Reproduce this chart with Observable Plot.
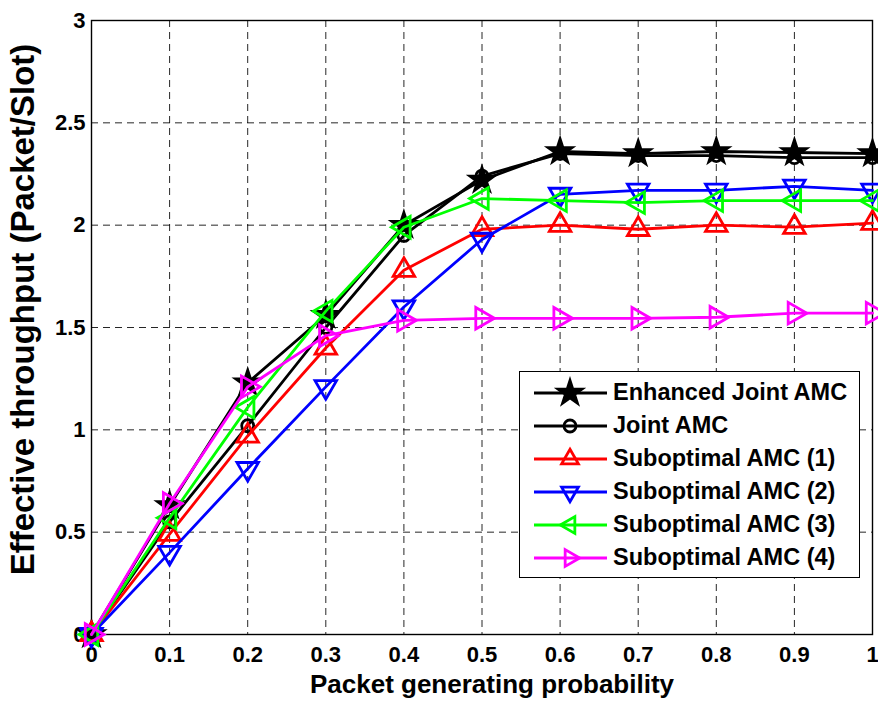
<!DOCTYPE html>
<html><head><meta charset="utf-8">
<script src="https://cdn.jsdelivr.net/npm/d3@7"></script>
<script src="https://cdn.jsdelivr.net/npm/@observablehq/plot@0.6"></script>
<style>
body{margin:0;background:#fff;}
#wrap{position:relative;width:878px;height:706px;overflow:hidden;font-family:"Liberation Sans",Arial,sans-serif;}
#legend{position:absolute;left:519px;top:371px;width:341px;height:207px;border:1.5px solid #000;background:#fff;box-sizing:border-box;}
.row{position:absolute;left:0;height:33px;display:flex;align-items:center;}
.row span{font-weight:bold;font-size:23.5px;color:#000;white-space:nowrap;}
</style></head><body><div id="wrap"></div>
<script>
const xValues = [0, 0.1, 0.2, 0.3, 0.4, 0.5, 0.6, 0.7, 0.8, 0.9, 1];
const enhancedJoint = [0, 0.63, 1.23, 1.56, 2.00, 2.22, 2.36, 2.35, 2.36, 2.355, 2.35];
const jointAMC = [0, 0.55, 1.02, 1.50, 1.95, 2.24, 2.35, 2.34, 2.34, 2.33, 2.33];
const subopt1 = [0, 0.49, 0.97, 1.40, 1.78, 1.98, 2.00, 1.98, 2.00, 1.99, 2.01];
const subopt2 = [0, 0.40, 0.81, 1.21, 1.60, 1.93, 2.15, 2.17, 2.17, 2.19, 2.17];
const subopt3 = [0, 0.57, 1.11, 1.58, 1.99, 2.13, 2.12, 2.11, 2.12, 2.12, 2.12];
const subopt4 = [0, 0.64, 1.21, 1.46, 1.535, 1.545, 1.545, 1.545, 1.55, 1.57, 1.57];

const seriesNames = ["Enhanced Joint AMC", "Joint AMC", "Suboptimal AMC (1)", "Suboptimal AMC (2)", "Suboptimal AMC (3)", "Suboptimal AMC (4)"];
const seriesValues = [enhancedJoint, jointAMC, subopt1, subopt2, subopt3, subopt4];
const seriesColors = ["#000000", "#000000", "#ff0000", "#0000ff", "#00ff00", "#ff00ff"];
const seriesSymbols = ["star", "circle", "triangle", "triangle", "triangle", "triangle"];
const seriesRotate = [0, 0, 0, 180, -90, 90];
const seriesR = [7.5, 6, 8, 8, 8, 8];

const xTicks = [0, 0.1, 0.2, 0.3, 0.4, 0.5, 0.6, 0.7, 0.8, 0.9, 1];
const yTicks = [0, 0.5, 1, 1.5, 2, 2.5, 3];
const xLabel = "Packet generating probability";
const yLabel = "Effective throughput (Packet/Slot)";

const table = [];
seriesNames.forEach((s, i) => seriesValues[i].forEach((v, j) => table.push({s, x: xValues[j], y: v})));

const gridStyle = {stroke: "#000", strokeOpacity: 0.85, strokeWidth: 1, strokeDasharray: "7,5"};

const marks = [
  Plot.gridX(xTicks, gridStyle),
  Plot.gridY(yTicks, gridStyle),
  Plot.frame({stroke: "#000", strokeWidth: 1.4}),
  Plot.text(xTicks, {x: d => d, text: d => String(d), frameAnchor: "bottom", textAnchor: "middle", lineAnchor: "top", dy: 12,
    fontSize: 22, fontWeight: "bold", fill: "#000"}),
  Plot.text(yTicks, {y: d => d, text: d => String(d), frameAnchor: "left", textAnchor: "end", lineAnchor: "middle", dx: -6,
    fontSize: 22, fontWeight: "bold", fill: "#000"})
];
seriesNames.forEach((name, i) => {
  const rows = table.filter(d => d.s === name);
  marks.push(Plot.line(rows, {x: "x", y: "y", stroke: seriesColors[i], strokeWidth: 2.8}));
  marks.push(Plot.dot(rows, {x: "x", y: "y", symbol: seriesSymbols[i], r: seriesR[i], rotate: seriesRotate[i],
    stroke: seriesColors[i], strokeWidth: 2.8, fill: i === 0 ? "#000" : "none"}));
});
marks.push(Plot.text([xLabel], {text: d => d, frameAnchor: "bottom", textAnchor: "middle", lineAnchor: "bottom", dx: 10, dy: 58,
  fontSize: 26, fontWeight: "bold", fill: "#000"}));
marks.push(Plot.text([yLabel], {text: d => d, frameAnchor: "left", textAnchor: "middle", lineAnchor: "bottom", rotate: -90, dx: -58, dy: -18,
  fontSize: 33, fontWeight: "bold", fill: "#000"}));

const chart = Plot.plot({
  width: 878, height: 706,
  marginLeft: 91, marginRight: 6, marginTop: 20, marginBottom: 72,
  x: {domain: [0, 1], axis: null},
  y: {domain: [0, 3], axis: null},
  style: {fontFamily: "'Liberation Sans', Arial, sans-serif", background: "#fff", color: "#000", overflow: "visible"},
  marks
});
const wrap = document.getElementById("wrap");
wrap.appendChild(chart);

// legend
const legend = document.createElement("div");
legend.id = "legend";
wrap.appendChild(legend);
seriesNames.forEach((name, i) => {
  const row = document.createElement("div");
  row.className = "row";
  row.style.top = (4 + i * 33) + "px";
  const svg = d3.create("svg").attr("width", 93).attr("height", 33);
  svg.append("line").attr("x1", 14).attr("x2", 87).attr("y1", 17).attr("y2", 17)
    .attr("stroke", seriesColors[i]).attr("stroke-width", 2.8);
  const sym = seriesSymbols[i] === "star" ? d3.symbolStar : seriesSymbols[i] === "circle" ? d3.symbolCircle : d3.symbolTriangle2;
  const r = seriesR[i];
  svg.append("path").attr("d", d3.symbol(sym, Math.PI * r * r)())
    .attr("transform", `translate(50,17) rotate(${seriesRotate[i]})`)
    .attr("fill", i === 0 ? "#000" : "none").attr("stroke", seriesColors[i]).attr("stroke-width", 2.8);
  row.appendChild(svg.node());
  const sp = document.createElement("span");
  sp.textContent = name;
  row.appendChild(sp);
  legend.appendChild(row);
});
</script></body></html>
